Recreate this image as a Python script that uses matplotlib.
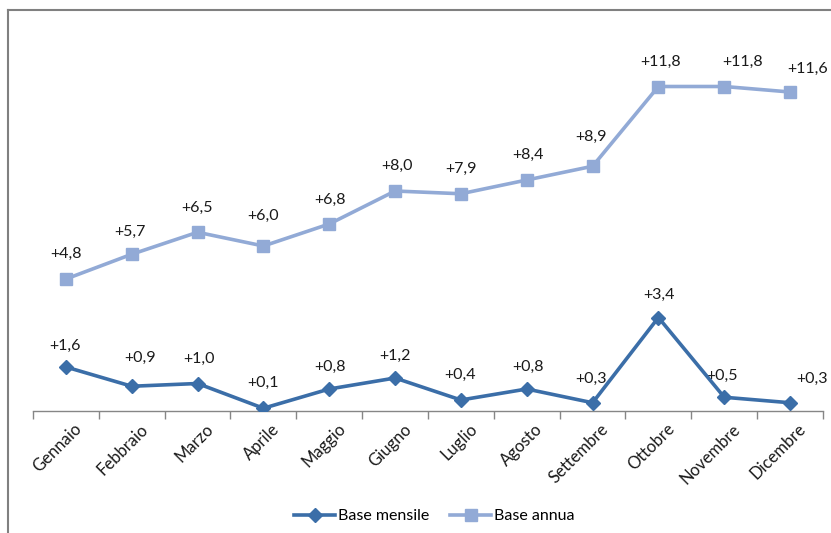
import matplotlib
matplotlib.use("Agg")
import matplotlib.pyplot as plt
from matplotlib.lines import Line2D
import matplotlib.transforms as mtransforms

months = ["Gennaio", "Febbraio", "Marzo", "Aprile", "Maggio", "Giugno",
          "Luglio", "Agosto", "Settembre", "Ottobre", "Novembre", "Dicembre"]
base_mensile = [1.6, 0.9, 1.0, 0.1, 0.8, 1.2, 0.4, 0.8, 0.3, 3.4, 0.5, 0.3]
base_annua = [4.8, 5.7, 6.5, 6.0, 6.8, 8.0, 7.9, 8.4, 8.9, 11.8, 11.8, 11.6]

# label offsets in pixels (dx, dy) relative to the point
off_mensile = [(-1, 21), (8, 28), (1, 25), (0, 25), (1, 22), (0, 22),
               (-1, 25), (1, 22), (-2, 24), (1, 23), (-2, 21), (22, 24)]
off_annua = [(0, 25), (-2, 22), (-1, 24), (0, 30), (1, 24), (2, 25),
             (0, 25), (1, 25), (-2, 29), (2, 25), (18, 25), (18, 23)]

plt.rcParams['font.family'] = ['Lato', 'DejaVu Sans']

W, H = 831, 533
fig = plt.figure(figsize=(W / 100, H / 100), dpi=100)
fig.patch.set_facecolor('white')

# partial frame (top and left)
fig.add_artist(Line2D([8 / W, 8 / W], [0, 1 - 10 / H], transform=fig.transFigure,
                      color='#808080', lw=1.5))
fig.add_artist(Line2D([8 / W, 1], [1 - 10 / H, 1 - 10 / H], transform=fig.transFigure,
                      color='#808080', lw=1.5))

left, right = 33 / W, 823 / W
bottom, top = (H - 411) / H, (H - 26) / H
ax = fig.add_axes([left, bottom, right - left, top - bottom])

x = list(range(len(months)))
c_m = '#3B6EA8'
c_a = '#92AAD6'

ax.plot(x, base_annua, color=c_a, lw=2.6, marker='s', markersize=9,
        markerfacecolor=c_a, markeredgecolor=c_a, label='Base annua', zorder=3)
ax.plot(x, base_mensile, color=c_m, lw=2.6, marker='D', markersize=7.5,
        markerfacecolor=c_m, markeredgecolor=c_m, label='Base mensile', zorder=4)

def fmt(v):
    return ('+%.1f' % v).replace('.', ',')

for i, v in enumerate(base_mensile):
    dx, dy = off_mensile[i]
    ax.annotate(fmt(v), (i, v), xytext=(dx * 0.72, dy * 0.72), textcoords='offset points',
                ha='center', va='center', fontsize=11.5, color='#1a1a1a')
for i, v in enumerate(base_annua):
    dx, dy = off_annua[i]
    ax.annotate(fmt(v), (i, v), xytext=(dx * 0.72, dy * 0.72), textcoords='offset points',
                ha='center', va='center', fontsize=11.5, color='#1a1a1a')

ax.set_xlim(-0.5, len(months) - 0.5)
ax.set_ylim(0, 14)
for s in ['top', 'right', 'left']:
    ax.spines[s].set_visible(False)
ax.spines['bottom'].set_color('#868686')
ax.spines['bottom'].set_linewidth(1)
ax.set_yticks([])

ax.set_xticks(x)
ax.set_xticklabels(months, rotation=45, ha='right', rotation_mode='anchor',
                   fontsize=12, color='#1a1a1a')
ax.tick_params(axis='x', which='major', length=0, pad=7)
ax.set_xticks([i - 0.5 for i in range(len(months) + 1)], minor=True)
ax.tick_params(axis='x', which='minor', length=6, color='#868686', width=1)
shift = mtransforms.ScaledTranslation(8 / 100, 0, fig.dpi_scale_trans)
for lbl in ax.get_xticklabels():
    lbl.set_transform(lbl.get_transform() + shift)

h, l = ax.get_legend_handles_labels()
leg = fig.legend([h[1], h[0]], [l[1], l[0]], loc='center', bbox_to_anchor=(434 / W, 1 - 516 / H),
                 ncol=2, frameon=False, fontsize=11.5, handlelength=2.6, columnspacing=1.3,
                 handletextpad=0.15)

fig.savefig('out.png', dpi=100, facecolor='white')
